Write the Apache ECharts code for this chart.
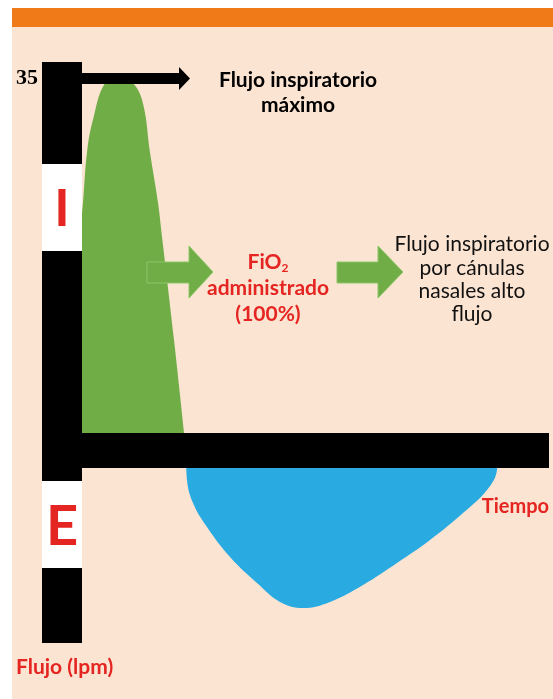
<!DOCTYPE html>
<html>
<head>
<meta charset="utf-8">
<script src="https://cdn.jsdelivr.net/npm/echarts@6/dist/echarts.min.js"></script>
<style>
  html, body { margin: 0; padding: 0; background: #ffffff; }
  #bg { position: absolute; left: 12px; top: 8px; width: 541px; height: 691px; background: #FCE4D2; border-top: 19px solid #EF7A17; box-sizing: border-box; }
  #chart { position: absolute; left: 0; top: 0; width: 553px; height: 699px; }
</style>
</head>
<body>
<div id="bg"></div>
<div id="chart"></div>
<script>
// Inspiratory flow (green) : time units vs flow (lpm)
const inspTime = [0, 2.05, 4.31, 5.13, 6.37, 8.83, 11.7, 14.58, 16.63, 18.07, 19.71, 20.53, 23.0, 25.46];
const inspFlow = [0, 12.3, 23.3, 28.0, 31.1, 34.5, 35.0, 34.5, 32.6, 28.0, 23.3, 20.1, 10.4, 0];
// Expiratory flow (blue)
const expTime = [25.46, 25.67, 26.9, 29.77, 34.5, 40.04, 44.76, 49.49, 55.03, 61.81, 68.79, 75.56, 82.34, 87.27, 89.32, 89.53];
const expFlow = [0, -2.77, -4.93, -7.19, -10.01, -12.45, -14.23, -14.8, -14.23, -12.64, -10.57, -8.41, -5.87, -3.71, -1.83, 0];
// Tick labels on the flow axis
const flowTicks = [35];

const FONT = 'Lato';
const RED = '#E52521';
const GREEN = '#70AD47';

const chart = echarts.init(document.getElementById('chart'), null, { renderer: 'canvas' });

function arrow(x0, xb, xt, yTop, yBot, hTop, hBot, color) {
  const yc = (hTop + hBot) / 2;
  return {
    type: 'polygon', z: 50,
    shape: { points: [[x0, yTop], [xb, yTop], [xb, hTop], [xt, yc], [xb, hBot], [xb, yBot], [x0, yBot]] },
    style: { fill: color, stroke: '#8CC66A', lineWidth: 1 }
  };
}
function txt(x, y, s, font, fill, align) {
  return { type: 'text', z: 51, x: x, y: y, style: { text: s, fill: fill, font: font, align: align || 'center', verticalAlign: 'middle' } };
}

const option = {
  backgroundColor: 'transparent',
  animation: false,
  grid: { left: 62, right: 4, top: 62, bottom: 56, containLabel: false },
  xAxis: {
    type: 'value', min: 0, max: 100, z: 5,
    axisLine: { onZero: true, lineStyle: { color: '#000', width: 35, cap: 'butt' } },
    axisTick: { show: false }, axisLabel: { show: false }, splitLine: { show: false }
  },
  yAxis: {
    type: 'value', min: -18.09, max: 36.5, z: 5,
    axisLine: { show: true, lineStyle: { color: '#000', width: 40, cap: 'butt' } },
    axisTick: { show: false }, splitLine: { show: false },
    axisLabel: {
      customValues: flowTicks, margin: 24, color: '#000',
      fontFamily: 'Liberation Serif', fontWeight: 'bold', fontSize: 22,
      padding: [18, 0, 0, 0]
    }
  },
  series: [
    {
      type: 'line', z: 2, smooth: 0.4, symbol: 'none',
      lineStyle: { width: 0 }, areaStyle: { color: GREEN, opacity: 1 },
      data: inspTime.map((t, i) => [t, inspFlow[i]])
    },
    {
      type: 'line', z: 2, smooth: 0.4, symbol: 'none',
      lineStyle: { width: 0 }, areaStyle: { color: '#29ABE2', opacity: 1 },
      data: expTime.map((t, i) => [t, expFlow[i]])
    }
  ],
  graphic: [
    { type: 'rect', z: 50, shape: { x: 42, y: 164, width: 40, height: 87 }, style: { fill: '#fff' } },
    txt(62, 209, 'I', 'bold 52px ' + FONT, RED),
    { type: 'rect', z: 50, shape: { x: 42, y: 481, width: 40, height: 87 }, style: { fill: '#fff' } },
    txt(62, 527, 'E', 'bold 56px ' + FONT, RED),
    // top black arrow
    { type: 'rect', z: 50, shape: { x: 80, y: 73, width: 100, height: 11 }, style: { fill: '#000' } },
    { type: 'polygon', z: 50, shape: { points: [[179, 67], [190, 78.5], [179, 90]] }, style: { fill: '#000' } },
    txt(298, 80, 'Flujo inspiratorio', 'bold 21px ' + FONT, '#000'),
    txt(298, 105, 'máximo', 'bold 21px ' + FONT, '#000'),
    // green arrows
    arrow(147, 189, 213, 262, 283, 246, 298, GREEN),
    arrow(337, 378, 403, 262, 283, 246, 298, GREEN),
    {
      type: 'text', z: 51, x: 268, y: 262,
      style: {
        text: '{a|FiO}{s|2}', align: 'center', verticalAlign: 'middle',
        rich: {
          a: { fill: RED, fontFamily: FONT, fontWeight: 'bold', fontSize: 21, lineHeight: 24 },
          s: { fill: RED, fontFamily: FONT, fontWeight: 'bold', fontSize: 12, lineHeight: 24, padding: [12, 0, 0, 0] }
        }
      }
    },
    txt(268, 288, 'administrado', 'bold 21px ' + FONT, RED),
    txt(268, 314, '(100%)', 'bold 21px ' + FONT, RED),
    txt(472, 244, 'Flujo inspiratorio', '21px ' + FONT, '#111'),
    txt(472, 268, 'por cánulas', '21px ' + FONT, '#111'),
    txt(472, 291, 'nasales alto', '21px ' + FONT, '#111'),
    txt(472, 314, 'flujo', '21px ' + FONT, '#111'),
    txt(549, 507, 'Tiempo', 'bold 20px ' + FONT, RED, 'right'),
    txt(16, 667, 'Flujo (lpm)', 'bold 21px ' + FONT, RED, 'left')
  ]
};
chart.setOption(option);
</script>
</body>
</html>
